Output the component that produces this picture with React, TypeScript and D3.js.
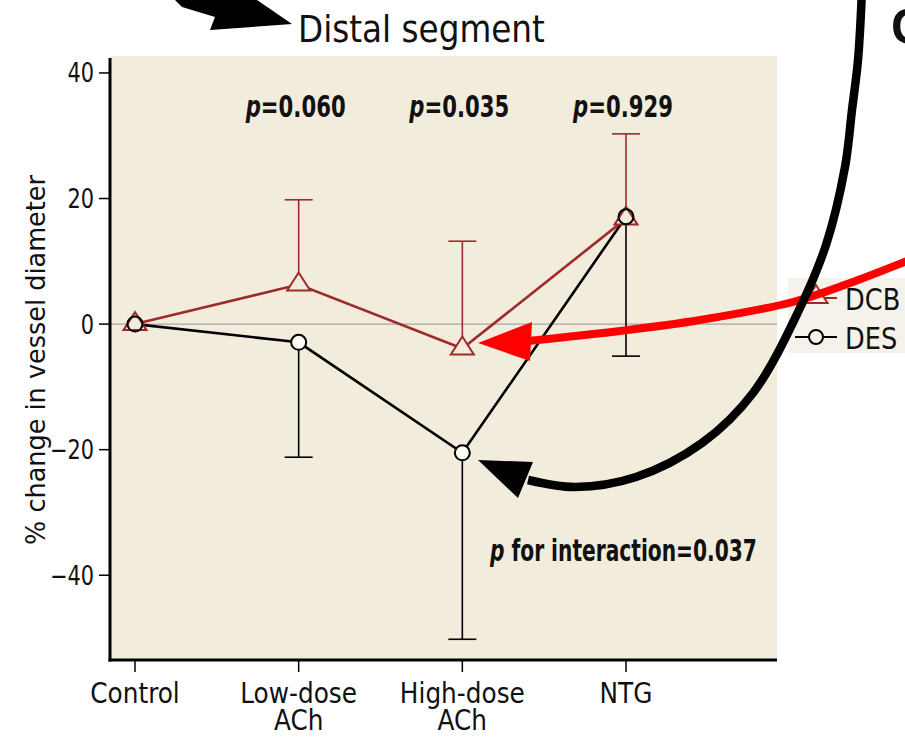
import React, { useLayoutEffect, useRef, useState } from "react";
import * as d3 from "d3";

// ---- data ----
const categories = ["Control", "Low-dose ACh", "High-dose ACh", "NTG"];
const categoryLines = [["Control"], ["Low-dose", "ACh"], ["High-dose", "ACh"], ["NTG"]];
const dcbMean = [0, 6.3, -3.9, 16.8];
const dcbUpper = [0, 19.8, 13.2, 30.3];
const desMean = [0, -2.9, -20.5, 17.1];
const desLower = [0, -21.2, -50.2, -5.1];
const yTicks = [-40, -20, 0, 20, 40];
const pLabels = ["", "0.060", "0.035", "0.929"];
const interactionP = "0.037";
const seriesNames = ["DCB", "DES"];

// ---- layout ----
const W = 905, H = 737;
const plotL = 110, plotR = 777, plotT = 56, plotB = 660;
const DARKRED = "#9e2a2b";
const BG = "#f1ecdc";
const COND = "'DejaVu Sans Condensed','Liberation Sans Narrow',sans-serif";

const x = d3.scalePoint<string>().domain(categories).range([135, 626]);
const y = d3.scaleLinear().domain([-53.5, 42.7]).range([plotB, plotT]);

const triPath = (cx: number, cy: number) => {
  const p = d3.path();
  p.moveTo(cx, cy - 12);
  p.lineTo(cx - 11.5, cy + 6);
  p.lineTo(cx + 11.5, cy + 6);
  p.closePath();
  return p.toString();
};

type FitProps = {
  x: number;
  y: number;
  width?: number;
  sx?: number;
  anchor?: "start" | "middle" | "end";
  size: number;
  bold?: boolean;
  rotate?: number;
  children: React.ReactNode;
};

function FitText({ x, y, width, sx = 1, anchor = "start", size, bold, rotate, children }: FitProps) {
  const ref = useRef<SVGTextElement>(null);
  const [s, setS] = useState(sx);
  useLayoutEffect(() => {
    if (width && ref.current) {
      const len = ref.current.getComputedTextLength();
      if (len > 0) setS(width / len);
    }
  }, [width]);
  return (
    <g transform={`translate(${x},${y})${rotate ? ` rotate(${rotate})` : ""} scale(${s},1)`}>
      <text ref={ref} textAnchor={anchor} fontFamily={COND} fontSize={size} fontWeight={bold ? "bold" : "normal"} fill="#111">
        {children}
      </text>
    </g>
  );
}

export default function App() {
  const dcbLine = d3.line<number>().x((_, i) => x(categories[i])!).y((d) => y(d))(dcbMean)!;
  const desLine = d3.line<number>().x((_, i) => x(categories[i])!).y((d) => y(d))(desMean)!;

  const bigCurve = d3.line().curve(d3.curveCatmullRom.alpha(0.5))([
    [862, -10], [858, 60], [852, 110], [845, 167], [826, 245], [799, 310],
    [753, 393], [702, 443], [636, 477], [575, 487], [528, 480],
  ])!;
  const redCurve = d3.line().curve(d3.curveCatmullRom.alpha(0.5))([
    [912, 259], [850, 283], [793, 302], [700, 320], [620, 331], [528, 341],
  ])!;

  return (
    <div style={{ position: "absolute", left: 0, top: 0 }}>
      <svg width={W} height={H} style={{ display: "block", background: "#fff" }}>
        {/* plot background */}
        <rect x={plotL} y={plotT} width={plotR - plotL} height={plotB - plotT} fill={BG} />
        {/* zero line */}
        <line x1={plotL} x2={plotR} y1={y(0)} y2={y(0)} stroke="#a8a8a0" strokeWidth={1.2} />

        {/* title */}
        <FitText x={298} y={42} width={247} size={38}>Distal segment</FitText>

        {/* y axis */}
        <line x1={plotL} x2={plotL} y1={plotT + 2} y2={plotB + 1.5} stroke="#000" strokeWidth={3} />
        {yTicks.map((t) => (
          <g key={t}>
            <line x1={99} x2={plotL} y1={y(t)} y2={y(t)} stroke="#000" strokeWidth={1.5} />
            <FitText x={94} y={y(t) + 9.5} anchor="end" size={27} sx={0.86}>
              {t < 0 ? "\u2212" + Math.abs(t) : String(t)}
            </FitText>
          </g>
        ))}
        <FitText x={45} y={360} rotate={-90} anchor="middle" size={27} width={370}>
          % change in vessel diameter
        </FitText>

        {/* x axis */}
        <line x1={plotL - 1.5} x2={plotR} y1={plotB} y2={plotB} stroke="#000" strokeWidth={3} />
        {categories.map((c, i) => (
          <g key={c}>
            <line x1={x(c)} x2={x(c)} y1={plotB} y2={plotB + 12} stroke="#000" strokeWidth={1.5} />
            {categoryLines[i].map((ln, j) => (
              <FitText key={j} x={x(c)!} y={703 + j * 26.5} anchor="middle" size={29} sx={0.95}>
                {ln}
              </FitText>
            ))}
          </g>
        ))}

        {/* error bars */}
        {categories.map((c, i) =>
          dcbUpper[i] > dcbMean[i] ? (
            <g key={"dcbE" + c} stroke={DARKRED} strokeWidth={1.6}>
              <line x1={x(c)} x2={x(c)} y1={y(dcbMean[i]) - 12} y2={y(dcbUpper[i])} />
              <line x1={x(c)! - 14} x2={x(c)! + 14} y1={y(dcbUpper[i])} y2={y(dcbUpper[i])} />
            </g>
          ) : null
        )}
        {categories.map((c, i) =>
          desLower[i] < desMean[i] ? (
            <g key={"desE" + c} stroke="#000" strokeWidth={1.6}>
              <line x1={x(c)} x2={x(c)} y1={y(desMean[i]) + 7} y2={y(desLower[i])} />
              <line x1={x(c)! - 14} x2={x(c)! + 14} y1={y(desLower[i])} y2={y(desLower[i])} />
            </g>
          ) : null
        )}

        {/* lines */}
        <path d={desLine} fill="none" stroke="#000" strokeWidth={2.6} />
        <path d={dcbLine} fill="none" stroke={DARKRED} strokeWidth={2.6} />

        {/* markers */}
        {dcbMean.map((v, i) => (
          <path key={"t" + i} d={triPath(x(categories[i])!, y(v))} fill={BG} stroke={DARKRED} strokeWidth={2} />
        ))}
        {desMean.map((v, i) => (
          <circle key={"c" + i} cx={x(categories[i])!} cy={y(v)} r={7.5} fill={i === 0 || i === 3 ? "none" : "#fdfcf6"} stroke="#000" strokeWidth={2} />
        ))}

        {/* p labels */}
        {categories.map((c, i) =>
          pLabels[i] ? (
            <FitText key={"p" + c} x={x(c)! - 3} y={117} anchor="middle" size={30} bold width={100}>
              <tspan fontStyle="italic">p</tspan>={pLabels[i]}
            </FitText>
          ) : null
        )}
        <FitText x={490} y={561} size={30} bold width={267}>
          <tspan fontStyle="italic">p</tspan> for interaction={interactionP}
        </FitText>

        {/* legend */}
        <rect x={788} y={278} width={130} height={75} fill="#f4f2ea" />
        <line x1={796} x2={837} y1={298} y2={298} stroke={DARKRED} strokeWidth={2.2} />
        <path d={triPath(816, 297)} fill="#f4f2ea" stroke={DARKRED} strokeWidth={2} />
        <FitText x={845} y={310} size={31} sx={0.92}>{seriesNames[0]}</FitText>
        <line x1={795} x2={837} y1={337} y2={337} stroke="#000" strokeWidth={2.2} />
        <circle cx={816} cy={337} r={7} fill="#f4f2ea" stroke="#000" strokeWidth={2} />
        <FitText x={845} y={349} size={31} sx={0.92}>{seriesNames[1]}</FitText>

        {/* annotation arrows */}
        <path d={redCurve} fill="none" stroke="#ff0000" strokeWidth={8} />
        <path d="M478,343 L532,322 L530,361 Z" fill="#ff0000" />
        <path d={bigCurve} fill="none" stroke="#000" strokeWidth={8.5} />
        <path d="M478,460 L533,462 L518,498 Z" fill="#000" />
        <path d="M175,0 L257,0 L292,24 L210,30 L215,17 L182,7 Z" fill="#000" />
        <text x={891} y={44} fontFamily="'Liberation Sans',sans-serif" fontWeight="bold" fontSize={50} fill="#111">C</text>
      </svg>
    </div>
  );
}
